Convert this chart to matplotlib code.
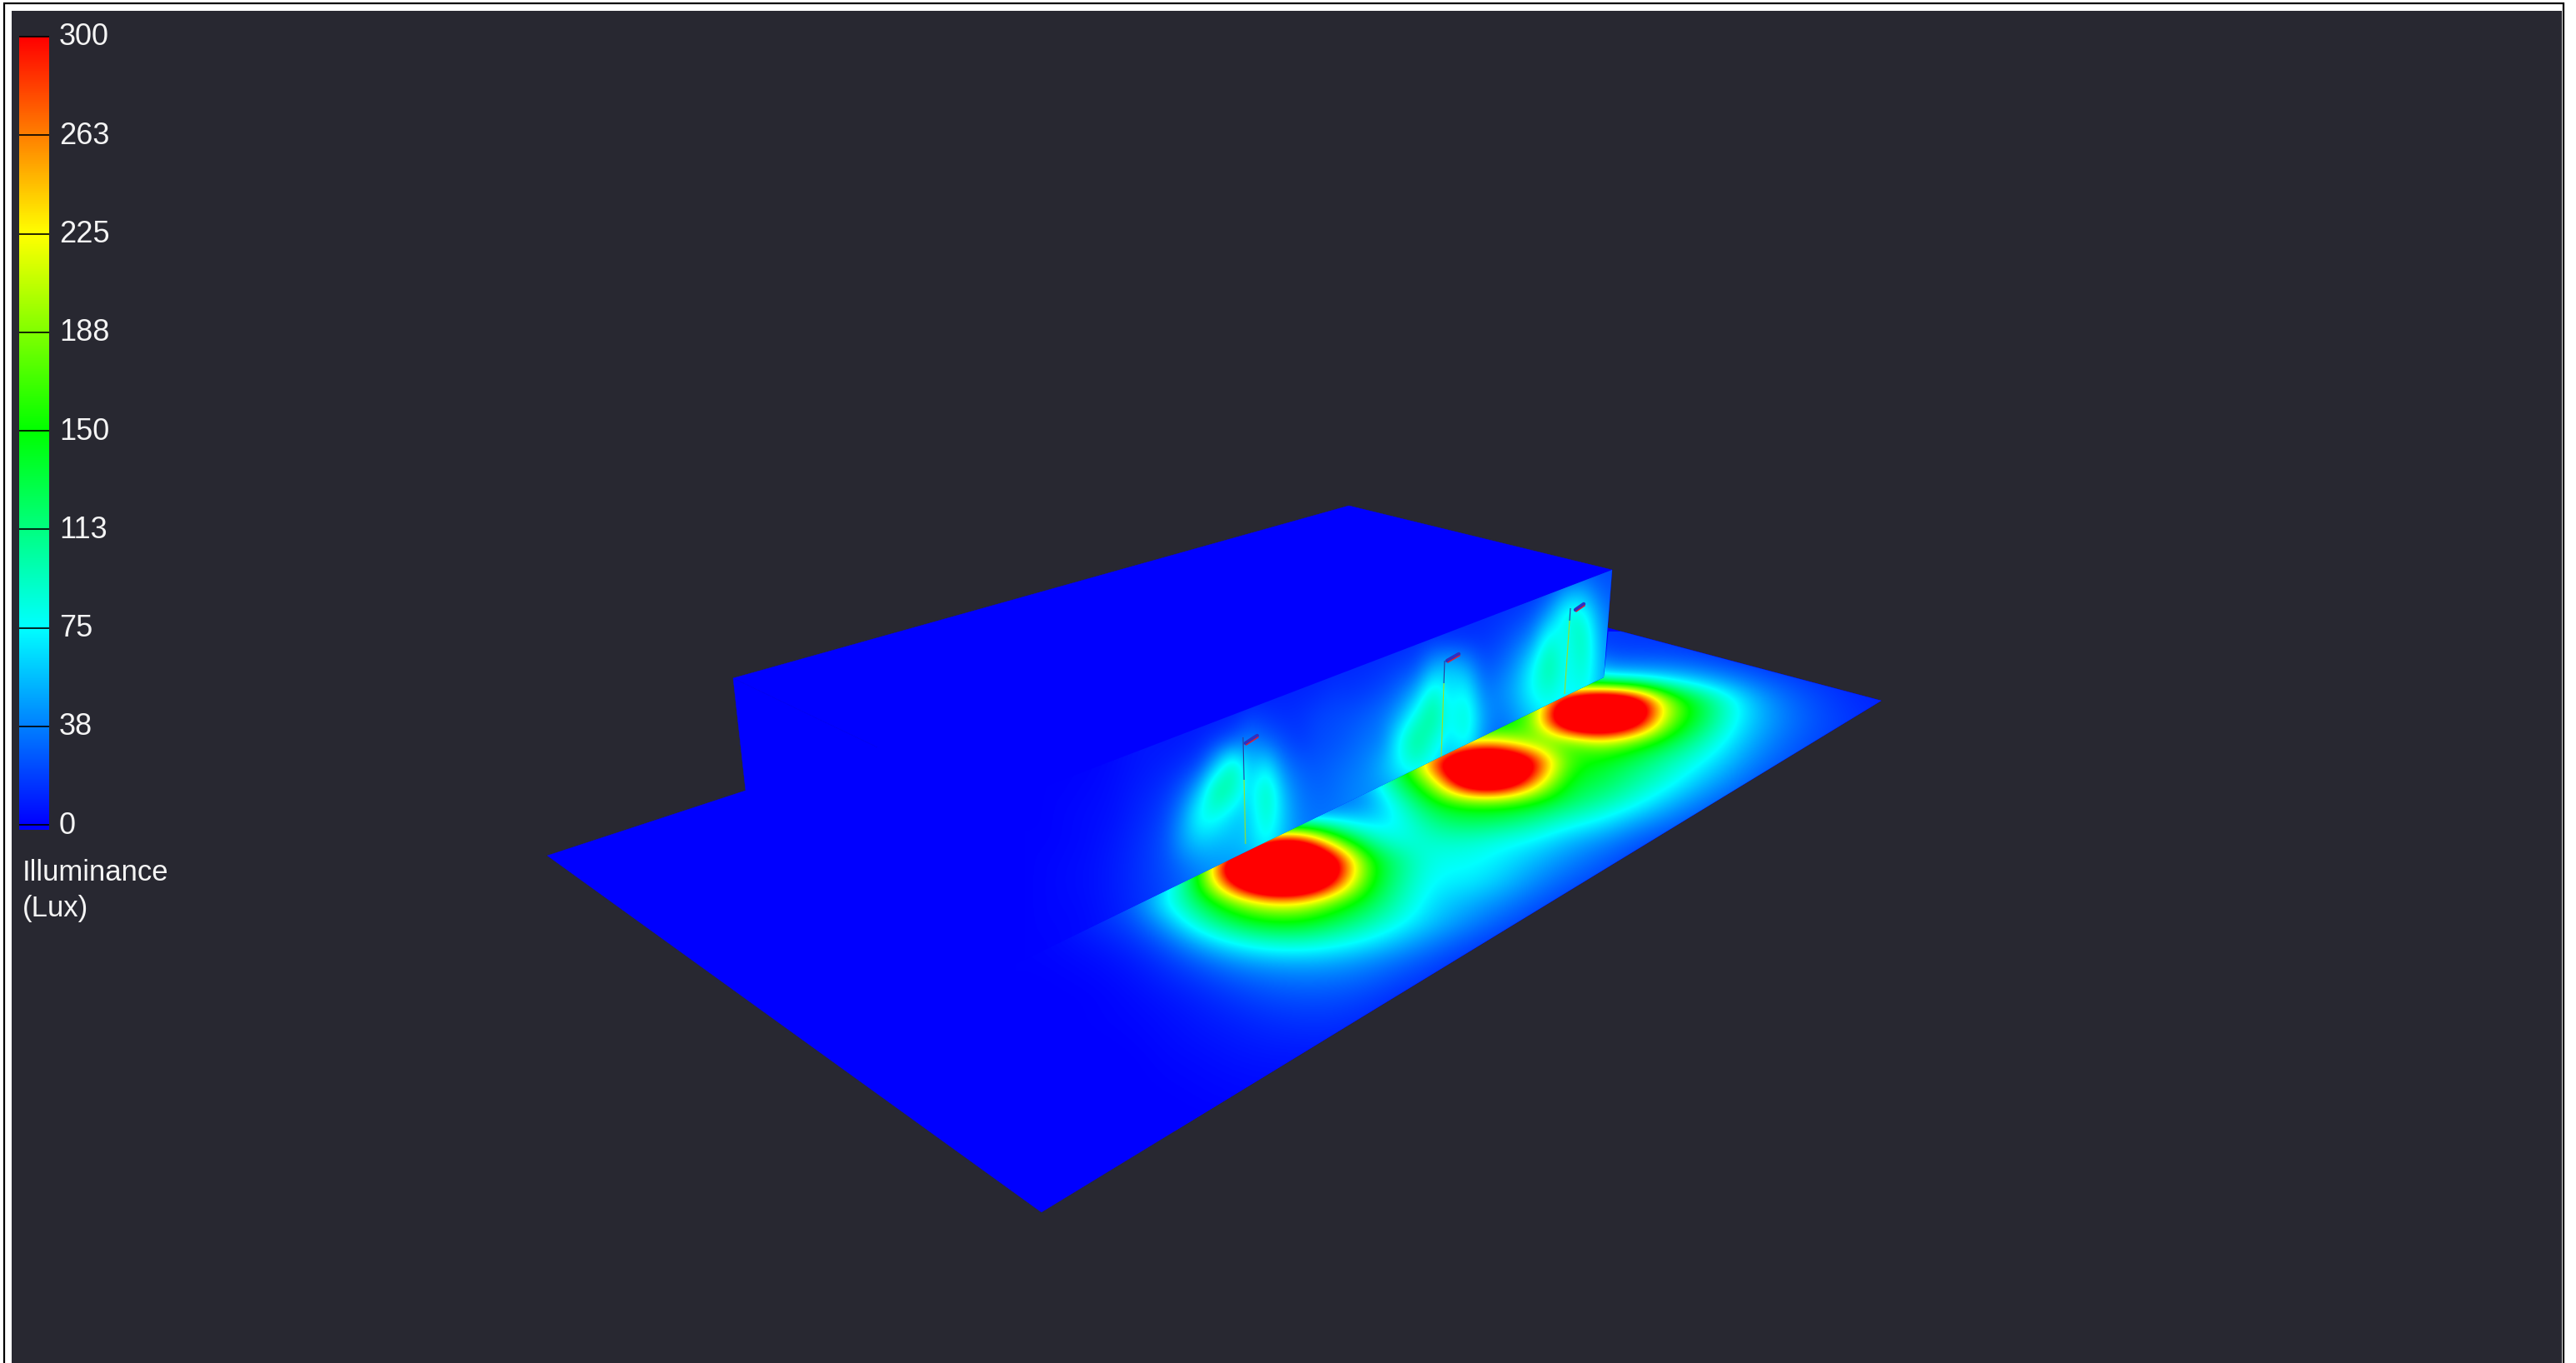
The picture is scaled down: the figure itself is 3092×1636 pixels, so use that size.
# -*- coding: utf-8 -*-
"""
Illuminance on the ground and on a building wall, three wall lights
everything is laid out in picture pixels
"""
import matplotlib
matplotlib.use('Agg')
import matplotlib.pyplot as plt
from matplotlib.cm import ScalarMappable
from matplotlib.colors import LinearSegmentedColormap, Normalize
from matplotlib.patches import Polygon, Rectangle
from matplotlib.transforms import ScaledTranslation
import numpy as np

W, H = 3092, 1636
DARK = '#282831'

# colour scale
scale_ticks = [0, 37.5, 75, 112.5, 150, 187.5, 225, 262.5, 300]
scale_labels = ['0', '38', '75', '113', '150', '188', '225', '263', '300']
scale_colors = ['#0000ff', '#00ffff', '#00ff00', '#ffff00', '#ff0000']

floor_x = np.arange(1240, 2281, 40)
floor_y = np.arange(770, 1347, 24)
floor_lux = [
    [0, 0, 0, 0, 0, 0, 0, 0, 0, 0, 0, 0, 0, 0, 0, 10, 20, 18, 16, 16, 14, 11, 9, 7, 5, 5, 4],
    [0, 0, 0, 0, 0, 0, 0, 0, 0, 0, 0, 0, 0, 0, 40, 100, 90, 30, 28, 28, 24, 18, 14, 10, 8, 6, 5],
    [0, 0, 0, 0, 0, 0, 0, 0, 0, 0, 0, 0, 0, 40, 100, 170, 120, 85, 80, 72, 58, 42, 28, 20, 14, 10, 8],
    [0, 0, 0, 0, 0, 0, 0, 0, 0, 0, 0, 20, 60, 100, 120, 160, 360, 450, 400, 205, 135, 82, 45, 28, 18, 12, 10],
    [0, 0, 0, 0, 0, 0, 0, 0, 0, 0, 10, 40, 90, 110, 130, 170, 420, 460, 380, 190, 130, 78, 48, 30, 20, 14, 10],
    [0, 0, 0, 0, 0, 0, 0, 0, 0, 10, 40, 80, 140, 215, 215, 165, 150, 205, 170, 135, 100, 66, 40, 26, 18, 12, 10],
    [0, 0, 0, 0, 0, 0, 0, 0, 0, 20, 60, 120, 300, 420, 440, 340, 165, 145, 125, 100, 78, 52, 32, 22, 14, 10, 8],
    [0, 0, 0, 0, 0, 0, 0, 0, 10, 30, 50, 125, 190, 400, 420, 270, 140, 130, 105, 85, 58, 38, 22, 14, 10, 8, 6],
    [0, 0, 0, 0, 0, 0, 0, 10, 20, 30, 38, 88, 145, 165, 165, 150, 125, 105, 85, 58, 38, 24, 14, 10, 8, 6, 5],
    [0, 0, 0, 0, 0, 0, 30, 50, 70, 70, 60, 72, 112, 125, 120, 105, 85, 72, 50, 35, 22, 14, 10, 8, 6, 5, 4],
    [0, 0, 0, 0, 0, 40, 100, 320, 340, 190, 105, 80, 90, 90, 80, 72, 55, 42, 28, 18, 12, 8, 6, 5, 4, 3, 3],
    [0, 0, 0, 10, 40, 130, 400, 480, 480, 360, 165, 110, 78, 78, 70, 55, 40, 28, 18, 10, 6, 5, 4, 3, 3, 2, 2],
    [0, 3, 6, 20, 60, 150, 330, 470, 470, 320, 160, 105, 72, 72, 60, 42, 28, 20, 10, 6, 4, 3, 2, 2, 2, 1, 1],
    [2, 5, 14, 30, 75, 125, 180, 225, 225, 175, 135, 95, 65, 55, 42, 28, 18, 10, 6, 3, 2, 2, 1, 1, 1, 1, 1],
    [2, 6, 14, 22, 50, 95, 130, 150, 150, 130, 105, 80, 58, 42, 28, 18, 10, 6, 3, 2, 1, 1, 1, 1, 1, 0, 0],
    [1, 4, 8, 14, 28, 55, 78, 92, 95, 85, 72, 55, 38, 25, 16, 10, 6, 3, 2, 1, 1, 1, 0, 0, 0, 0, 0],
    [1, 2, 4, 8, 16, 28, 42, 50, 52, 50, 42, 32, 22, 14, 9, 5, 3, 2, 1, 1, 0, 0, 0, 0, 0, 0, 0],
    [0, 1, 2, 5, 10, 16, 24, 30, 33, 32, 28, 20, 14, 9, 5, 3, 2, 1, 0, 0, 0, 0, 0, 0, 0, 0, 0],
    [0, 0, 1, 3, 6, 10, 15, 20, 22, 22, 18, 12, 8, 5, 3, 2, 1, 0, 0, 0, 0, 0, 0, 0, 0, 0, 0],
    [0, 0, 1, 2, 4, 7, 10, 13, 15, 15, 12, 8, 5, 3, 2, 1, 0, 0, 0, 0, 0, 0, 0, 0, 0, 0, 0],
    [0, 0, 0, 1, 3, 5, 7, 9, 10, 10, 8, 5, 3, 2, 1, 0, 0, 0, 0, 0, 0, 0, 0, 0, 0, 0, 0],
    [0, 0, 0, 0, 2, 3, 5, 6, 6, 6, 5, 3, 2, 1, 0, 0, 0, 0, 0, 0, 0, 0, 0, 0, 0, 0, 0],
    [0, 0, 0, 0, 1, 2, 3, 4, 4, 4, 3, 2, 1, 0, 0, 0, 0, 0, 0, 0, 0, 0, 0, 0, 0, 0, 0],
    [0, 0, 0, 0, 0, 1, 2, 2, 2, 2, 1, 1, 0, 0, 0, 0, 0, 0, 0, 0, 0, 0, 0, 0, 0, 0, 0],
    [0, 0, 0, 0, 0, 0, 0, 0, 0, 0, 0, 0, 0, 0, 0, 0, 0, 0, 0, 0, 0, 0, 0, 0, 0, 0, 0],
]

wall_x = np.arange(1240, 1961, 20)
wall_y = np.arange(680, 1161, 30)
wall_lux = [
    [0, 0, 0, 1, 1, 2, 3, 3, 3, 4, 4, 4, 4, 5, 5, 5, 5, 6, 6, 6, 6, 7, 7, 8, 8, 9, 9, 10, 10, 11, 12, 14, 16, 20, 22, 22, 22],
    [0, 0, 0, 1, 1, 2, 3, 3, 3, 4, 4, 4, 5, 5, 5, 5, 6, 6, 6, 7, 7, 8, 8, 9, 9, 10, 10, 11, 12, 13, 15, 22, 45, 50, 30, 25, 25],
    [0, 0, 0, 1, 1, 2, 3, 3, 4, 4, 4, 5, 5, 5, 6, 6, 6, 7, 7, 8, 8, 9, 10, 10, 11, 12, 12, 13, 15, 18, 25, 50, 90, 90, 45, 30, 28],
    [0, 0, 0, 1, 1, 2, 3, 4, 4, 4, 5, 5, 5, 6, 6, 7, 7, 8, 8, 9, 10, 11, 12, 14, 16, 15, 15, 16, 20, 30, 45, 95, 70, 105, 50, 35, 30],
    [0, 0, 0, 1, 1, 2, 4, 4, 5, 5, 5, 6, 6, 7, 7, 8, 9, 10, 11, 12, 13, 15, 18, 22, 50, 60, 50, 25, 30, 45, 75, 110, 70, 95, 55, 38, 32],
    [0, 0, 0, 1, 1, 2, 4, 5, 5, 6, 6, 7, 8, 8, 9, 10, 11, 12, 16, 16, 18, 22, 32, 50, 95, 65, 80, 36, 40, 55, 80, 90, 70, 85, 55, 40, 35],
    [0, 0, 0, 1, 1, 3, 5, 6, 6, 7, 8, 9, 10, 18, 16, 14, 15, 20, 22, 24, 28, 35, 50, 85, 115, 70, 95, 48, 35, 45, 60, 70, 60, 60, 50, 40, 35],
    [0, 0, 0, 1, 1, 3, 6, 7, 7, 8, 10, 16, 25, 40, 30, 22, 17, 22, 24, 28, 34, 38, 80, 115, 85, 65, 85, 40, 28, 35, 50, 55, 50, 50, 45, 40, 35],
    [0, 0, 1, 1, 2, 4, 6, 8, 10, 14, 22, 60, 110, 55, 75, 38, 28, 26, 30, 34, 40, 55, 75, 85, 70, 50, 50, 35, 30, 35, 40, 45, 45, 45, 40, 35, 35],
    [0, 1, 1, 2, 3, 5, 8, 11, 16, 28, 58, 115, 95, 60, 105, 55, 35, 30, 32, 38, 42, 45, 50, 50, 45, 40, 35, 35, 30, 30, 30, 30, 30, 30, 30, 30, 30],
    [0, 1, 2, 3, 4, 6, 10, 14, 22, 45, 85, 80, 60, 60, 95, 60, 38, 34, 35, 38, 40, 40, 40, 35, 35, 30, 30, 30, 30, 30, 30, 30, 30, 30, 30, 30, 30],
    [1, 1, 2, 3, 5, 8, 12, 17, 26, 50, 60, 55, 55, 60, 80, 55, 40, 35, 35, 38, 40, 40, 40, 35, 35, 30, 30, 30, 30, 30, 30, 30, 30, 30, 30, 30, 30],
    [1, 2, 3, 4, 6, 9, 13, 18, 24, 32, 40, 45, 45, 50, 55, 45, 40, 38, 38, 38, 38, 35, 35, 35, 30, 30, 30, 30, 30, 30, 30, 30, 30, 30, 30, 30, 30],
    [1, 2, 3, 4, 6, 9, 13, 17, 22, 28, 34, 40, 40, 40, 40, 40, 38, 35, 35, 35, 35, 35, 30, 30, 30, 30, 30, 30, 30, 30, 30, 30, 30, 30, 30, 30, 30],
    [1, 2, 2, 3, 5, 8, 11, 15, 19, 24, 30, 36, 40, 40, 40, 40, 38, 35, 35, 35, 35, 35, 30, 30, 30, 30, 30, 30, 30, 30, 30, 30, 30, 30, 30, 30, 30],
    [1, 1, 2, 3, 4, 6, 9, 12, 16, 20, 26, 32, 40, 40, 40, 40, 38, 35, 35, 35, 35, 35, 30, 30, 30, 30, 30, 30, 30, 30, 30, 30, 30, 30, 30, 30, 30],
    [1, 1, 2, 2, 3, 5, 7, 10, 14, 18, 24, 30, 40, 40, 40, 40, 38, 35, 35, 35, 35, 35, 30, 30, 30, 30, 30, 30, 30, 30, 30, 30, 30, 30, 30, 30, 30],
]

# scene outline in picture pixels
ground_xy = [(657, 1027), (1250, 1455), (2258, 841), (1687, 689)]
lit_ground_xy = [(991, 1268), (1250, 1455), (2258, 841), (1931, 754), (1925, 813)]
roof_xy = [(880, 814), (1619, 607), (1935, 684), (1197, 966)]
end_wall_xy = [(880, 814), (1197, 966), (1207, 1163), (895, 949)]
front_wall_xy = [(1197, 966), (1935, 684), (1925, 813), (1207, 1163)]

# the three light poles: (top, bottom), colour change height, cap ends
poles = [
    ((1492, 885), (1495, 1013), 936, (1495, 892), (1509, 883)),
    ((1734, 793), (1730, 908), 820, (1737, 793), (1751, 785)),
    ((1885, 730), (1878, 833), 745, (1891, 732), (1901, 725)),
]

cmap = LinearSegmentedColormap.from_list('lux', scale_colors, N=512)
norm = Normalize(0, 300)

fig = plt.figure(figsize=(W / 100, H / 100), dpi=100, facecolor='white')
ax = fig.add_axes([0, 0, 1, 1])
ax.axis('off')

# frame and dark background
ax.add_patch(Rectangle((5, 4), 3072, H, fc='white', ec='black', lw=1.6))
ax.add_patch(Rectangle((14, 13), 3061, H, fc=DARK, ec='none'))

blue = cmap(0.0)
for shape in (ground_xy, end_wall_xy, roof_xy, front_wall_xy):
    ax.add_patch(Polygon(shape, closed=True, fc=blue, ec=blue, lw=0.3))


def draw_lux(xs, ys, values, outline):
    dx = xs[1] - xs[0]
    dy = ys[1] - ys[0]
    box = (xs[0] - dx / 2, xs[-1] + dx / 2, ys[-1] + dy / 2, ys[0] - dy / 2)
    img = ax.imshow(np.array(values, dtype=float), extent=box, cmap=cmap, norm=norm, aspect='auto',
                    interpolation='bicubic', interpolation_stage='data', origin='upper', zorder=1.5)
    clip = Polygon(outline, closed=True, transform=ax.transData)
    img.set_clip_path(clip)


draw_lux(floor_x, floor_y, floor_lux, lit_ground_xy)
draw_lux(wall_x, wall_y, wall_lux, front_wall_xy)

# poles on the wall
for top, bot, change, cap0, cap1 in poles:
    f = (change - top[1]) / (bot[1] - top[1])
    mid = (top[0] + f * (bot[0] - top[0]), change)
    ax.plot([top[0], mid[0]], [top[1], mid[1]], color='#2a3a9a', lw=0.8, solid_capstyle='butt')
    ax.plot([mid[0], bot[0]], [mid[1], bot[1]], color='#a0e020', lw=0.8, solid_capstyle='butt')
    ax.plot([cap0[0], cap1[0]], [cap0[1], cap1[1]], color='#3030c0', lw=3.2, solid_capstyle='round')
    ax.plot([cap0[0] + 1, cap1[0] + 1], [cap0[1] + 2, cap1[1] + 2], color='#e02030', lw=1.0)

ax.set_xlim(0, W)
ax.set_ylim(H, 0)

# colour bar
cax = fig.add_axes([23 / W, 1 - 996 / H, 36 / W, 952 / H])
cax.set_facecolor(blue)
cb = fig.colorbar(ScalarMappable(norm=norm, cmap=cmap), cax=cax, ticks=scale_ticks)
cax.set_ylim(-1.9, 300)
cb.outline.set_visible(False)
cb.set_ticklabels(scale_labels)
cax.tick_params(axis='y', direction='in', length=26, width=1.2, color='black', pad=8.6,
                labelsize=26, labelcolor='#f4f4f4')
shift = ScaledTranslation(0, 3 / 100, fig.dpi_scale_trans)
for lab in cax.get_yticklabels():
    lab.set_family('Liberation Sans')
    lab.set_transform(lab.get_transform() + shift)

ax.text(27, 1057, 'Illuminance', color='#f4f4f4', fontsize=25, family='Liberation Sans', va='baseline')
ax.text(27, 1100, '(Lux)', color='#f4f4f4', fontsize=25, family='Liberation Sans', va='baseline')

fig.savefig('out.png', dpi=100, facecolor='white')
